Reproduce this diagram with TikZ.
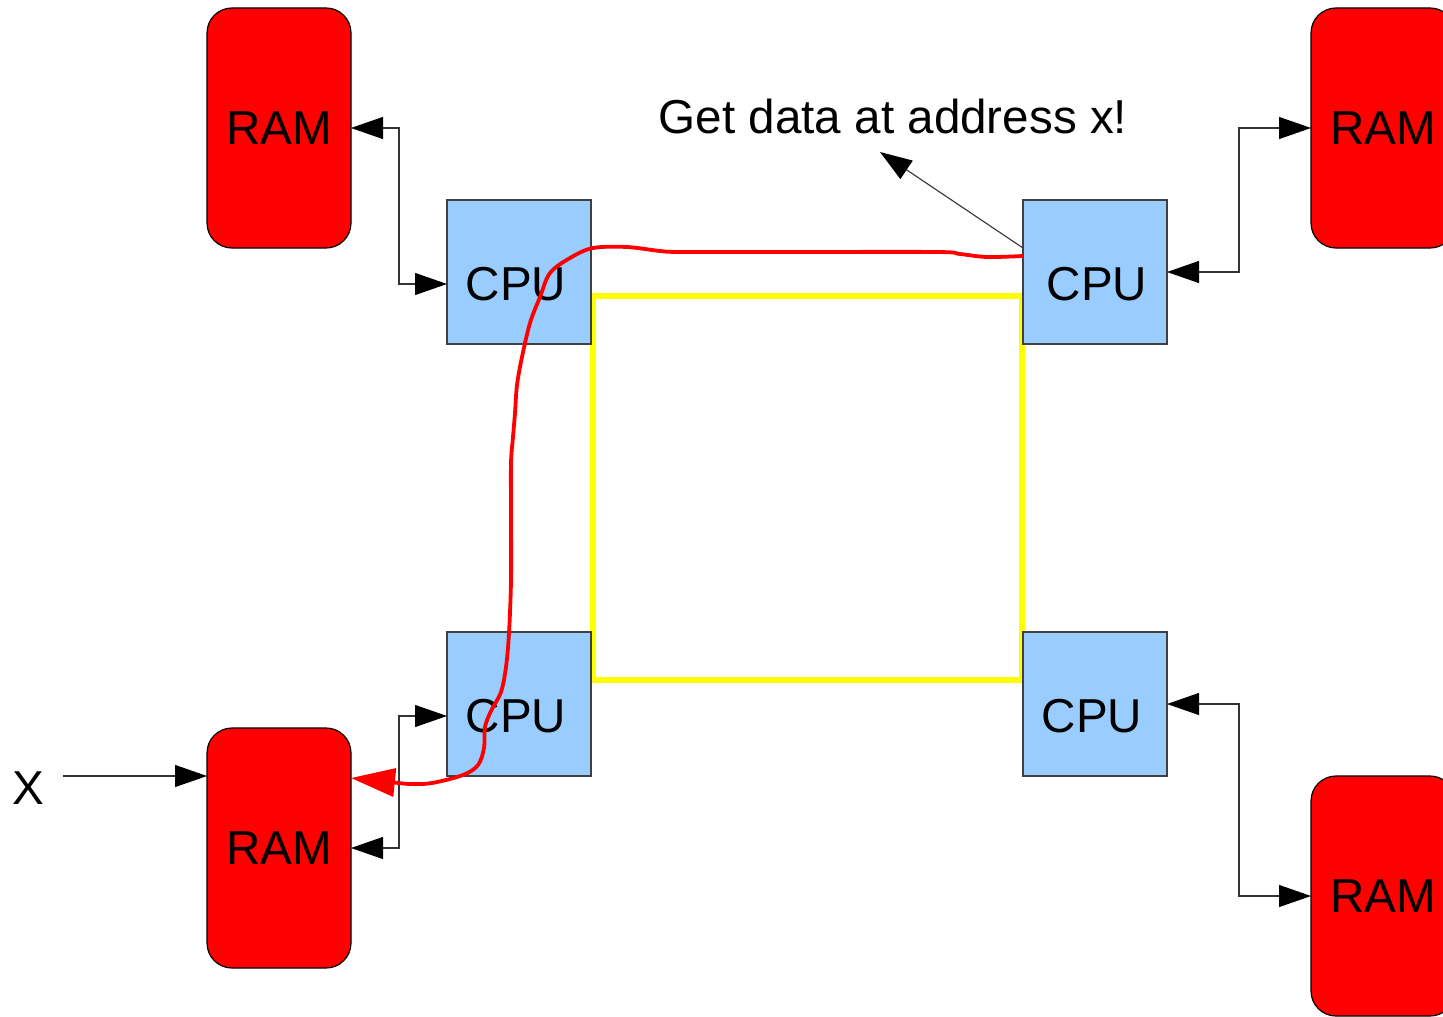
\documentclass[tikz,border=0pt]{standalone}
\usepackage{fontspec}
\setmainfont{Liberation Sans}
\usetikzlibrary{arrows.meta}
\definecolor{ramred}{HTML}{FF0000}
\definecolor{cpublue}{HTML}{99CCFF}
\definecolor{ringyellow}{HTML}{FFFF00}
\definecolor{wire}{HTML}{333333}
\tikzset{
  bustip/.tip={Triangle[length=16pt,width=11pt,color=black]},
  routetip/.tip={Triangle[length=22pt,width=14pt]}
}
\begin{document}
\begin{tikzpicture}[x=0.5pt,y=-0.5pt,
  bigtext/.style={font=\fontsize{23.8}{28}\selectfont},
  ram/.style={draw=black, line width=0.6pt, fill=ramred, rounded corners=12.5pt,
    minimum width=72pt, minimum height=120pt, inner sep=0pt, outer sep=0pt, bigtext},
  cpu/.style={draw=black!75, line width=0.6pt, fill=cpublue,
    minimum width=72pt, minimum height=72pt, inner sep=0pt, outer sep=0pt},
  lbl/.style={inner sep=0pt, bigtext},
  link/.style={draw=wire, line width=0.55pt, bustip-bustip},
  feed/.style={draw=wire, line width=0.55pt, -bustip},
  ring/.style={draw=ringyellow, line width=2.9pt},
  route/.style={draw=ramred, line width=1.9pt, -routetip}
]
\useasboundingbox (0,0) rectangle (1443,1016);

% ring interconnect between the four processors
\coordinate (ringA) at (593,296);
\coordinate (ringB) at (1022,680);
\draw[ring] (ringA) rectangle (ringB);

% memories
\node[ram] (ramTL) at (279,128) {RAM};
\node[ram] (ramTR) at (1383,128) {RAM};
\node[ram] (ramBL) at (279,848) {RAM};
\node[ram] (ramBR) at (1383,896) {RAM};

% processors
\node[cpu] (cpuTL) at (519,272) {};
\node[cpu] (cpuTR) at (1095,272) {};
\node[cpu] (cpuBL) at (519,704) {};
\node[cpu] (cpuBR) at (1095,704) {};
\node[lbl] (cpuTLt) at (516,284) {CPU};
\node[lbl] (cpuTRt) at (1097,284) {CPU};
\node[lbl] (cpuBLt) at (516,716) {CPU};
\node[lbl] (cpuBRt) at (1092,716) {CPU};

% memory buses
\draw[link] (ramTL.east) -- ++(48,0) |- ([yshift=-6pt]cpuTL.west);
\draw[link] (cpuTR.east) -- ++(72,0) |- (ramTR.west);
\draw[link] ([yshift=-6pt]cpuBL.west) -- ++(-48,0) |- (ramBL.east);
\draw[link] (cpuBR.east) -- ++(72,0) |- (ramBR.west);

% external input
\node[lbl] (xin) at (28,788) {X};
\coordinate (ramBLin) at ([yshift=36pt]ramBL.west);
\draw[feed] ([xshift=9.5pt]xin.east |- ramBLin) -- (ramBLin);

% request
\node[lbl] (msg) at (893,116) {Get data at address x!};
\coordinate (ask) at (880,152);
\draw[feed] ([yshift=-24pt]cpuTR.north west) -- (ask);

% path of the request through the ring
\coordinate (routeEnd) at ([yshift=35pt]ramBL.east);
\draw[route] plot[smooth, tension=0.55] coordinates {
  ([yshift=8pt]cpuTR.west) (987,257) (960,254) (937,252) (793,252) (683,252)
  (660,251) (627,247) (593,248) (570,258) (550,273) (540,297) (530,323)
  (522,357) (517,385) (515,413) (513,437) (511,463) (511,513) (511,580)
  (509,633) (506,667) (501,692) (491,711) (485,727) (484,748)
  (478,765) (463,775) (432,783) (410,784) (390,782) (routeEnd)};
\end{tikzpicture}
\end{document}
